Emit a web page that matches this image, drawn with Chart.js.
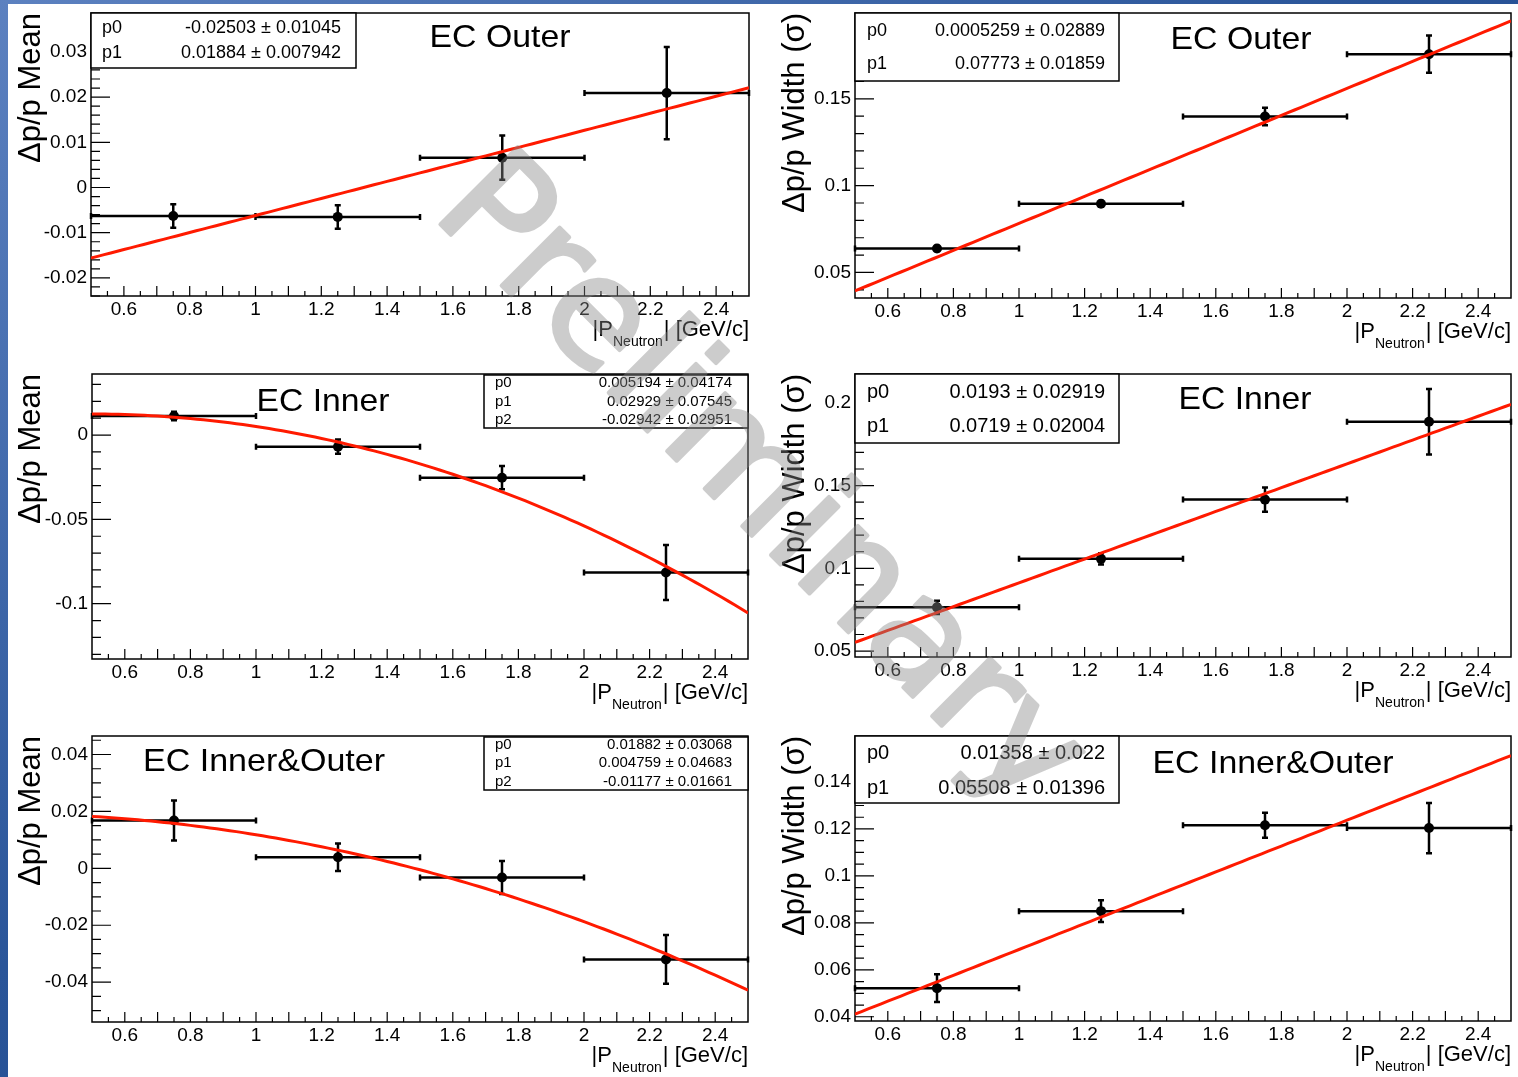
<!DOCTYPE html>
<html lang="en">
<head>
<meta charset="utf-8">
<title>Neutron momentum resolution vs |P|</title>
<script src="https://cdn.jsdelivr.net/npm/chart.js@4.4.1/dist/chart.umd.min.js"></script>
<style>
    html, body { margin: 0; padding: 0; }
    body {
        position: relative;
        width: 1518px;
        height: 1077px;
        overflow: hidden;
        background: linear-gradient(to bottom right, #5c81c0 0%, #2a5599 45%, #173d80 100%);
    }
    #sheet { position: absolute; left: 8px; top: 4px; width: 1510px; height: 1073px; background: #fff; }
    canvas { position: absolute; }
    #stamp { left: 0; top: 0; pointer-events: none; opacity: 0.42; }
</style>
</head>
<body>
<div id="sheet"></div>
<canvas id="stamp" width="1518" height="1077"></canvas>
<script>
const fontFamily = '"Liberation Sans", Arial, Helvetica, sans-serif';
Chart.defaults.font.family = fontFamily;
Chart.defaults.color = "#000";

const fitColor = "#ff1a00";

// |P_Neutron| bins (GeV/c)
const pBins = [0.75, 1.25, 1.75, 2.25];
const pHalfWidth = [0.25, 0.25, 0.25, 0.25];
const pTicks = [0.6, 0.8, 1, 1.2, 1.4, 1.6, 1.8, 2, 2.2, 2.4];
const fitRange = [0.5, 2.5];

// EC Outer
const outerMean = [-0.0063, -0.0065, 0.0066, 0.0209];
const outerMeanErr = [0.0026, 0.0026, 0.0049, 0.0102];
const outerMeanFit = [-0.02503, 0.01884];
const outerMeanFitErr = [0.01045, 0.007942];
const outerMeanTicks = [-0.02, -0.01, 0, 0.01, 0.02, 0.03];

const outerWidth = [0.0638, 0.0896, 0.1398, 0.1757];
const outerWidthErr = [0.0015, 0.0015, 0.005, 0.0107];
const outerWidthFit = [0.0005259, 0.07773];
const outerWidthFitErr = [0.02889, 0.01859];
const outerWidthTicks = [0.05, 0.1, 0.15];

// EC Inner
const innerMean = [0.0113, -0.0069, -0.0253, -0.0815];
const innerMeanErr = [0.0025, 0.0042, 0.0069, 0.0163];
const innerMeanFit = [0.005194, 0.02929, -0.02942];
const innerMeanFitErr = [0.04174, 0.07545, 0.02951];
const innerMeanTicks = [-0.1, -0.05, 0];

const innerWidth = [0.0764, 0.1057, 0.1415, 0.1885];
const innerWidthErr = [0.004, 0.0034, 0.0073, 0.0198];
const innerWidthFit = [0.0193, 0.0719];
const innerWidthFitErr = [0.02919, 0.02004];
const innerWidthTicks = [0.05, 0.1, 0.15, 0.2];

// EC Inner&Outer
const bothMean = [0.0168, 0.0039, -0.0032, -0.032];
const bothMeanErr = [0.007, 0.0048, 0.0058, 0.0086];
const bothMeanFit = [0.01882, 0.004759, -0.01177];
const bothMeanFitErr = [0.03068, 0.04683, 0.01661];
const bothMeanTicks = [-0.04, -0.02, 0, 0.02, 0.04];

const bothWidth = [0.0522, 0.085, 0.1216, 0.1204];
const bothWidthErr = [0.0059, 0.0046, 0.0053, 0.0107];
const bothWidthFit = [0.01358, 0.05508];
const bothWidthFitErr = [0.022, 0.01396];
const bothWidthTicks = [0.04, 0.06, 0.08, 0.1, 0.12, 0.14];

// page layout of the six pads: canvas box, frame, axis range, stats box, title
const pads = [
    {
        box: [8, 4, 752, 356], frame: [91, 13, 749, 296], yMin: -0.024, yMax: 0.0386,
        yTicks: outerMeanTicks, yMajor: 0.01, yMinor: 0.002, yTitle: "Δp/p Mean", yTitlePad: 4.5,
        values: outerMean, errors: outerMeanErr, fit: outerMeanFit, fitErr: outerMeanFitErr,
        stats: {rect: [91, 13, 356, 68], rows: [28, 53], labelX: 102, valueX: 341, size: 18},
        title: "EC Outer", titleAt: [500, 47], titleWidth: 141,
    },
    {
        box: [760, 4, 758, 356], frame: [855, 13, 1511, 298], yMin: 0.0353, yMax: 0.1994,
        yTicks: outerWidthTicks, yMajor: 0.05, yMinor: 0.01, yTitle: "Δp/p Width (σ)", yTitlePad: 16.5,
        values: outerWidth, errors: outerWidthErr, fit: outerWidthFit, fitErr: outerWidthFitErr,
        stats: {rect: [855, 13, 1119, 81], rows: [31, 64], labelX: 867, valueX: 1105, size: 18},
        title: "EC Outer", titleAt: [1241, 49], titleWidth: 141,
    },
    {
        box: [8, 360, 752, 360], frame: [92, 374, 748, 659], yMin: -0.1328, yMax: 0.0362,
        yTicks: innerMeanTicks, yMajor: 0.05, yMinor: 0.01, yTitle: "Δp/p Mean", yTitlePad: 4.5,
        values: innerMean, errors: innerMeanErr, fit: innerMeanFit, fitErr: innerMeanFitErr,
        stats: {rect: [484, 375, 748, 428], rows: [383, 402, 420], labelX: 495, valueX: 732, size: 15},
        title: "EC Inner", titleAt: [323, 411], titleWidth: 133,
    },
    {
        box: [760, 360, 758, 360], frame: [855, 374, 1511, 657], yMin: 0.0464, yMax: 0.2174,
        yTicks: innerWidthTicks, yMajor: 0.05, yMinor: 0.01, yTitle: "Δp/p Width (σ)", yTitlePad: 16.5,
        values: innerWidth, errors: innerWidthErr, fit: innerWidthFit, fitErr: innerWidthFitErr,
        stats: {rect: [855, 374, 1119, 443], rows: [392, 426], labelX: 867, valueX: 1105, size: 20},
        title: "EC Inner", titleAt: [1245, 409], titleWidth: 133,
    },
    {
        box: [8, 720, 752, 357], frame: [92, 736, 748, 1022], yMin: -0.054, yMax: 0.0465,
        yTicks: bothMeanTicks, yMajor: 0.02, yMinor: 0.005, yTitle: "Δp/p Mean", yTitlePad: 4.5,
        values: bothMean, errors: bothMeanErr, fit: bothMeanFit, fitErr: bothMeanFitErr,
        stats: {rect: [484, 737, 748, 790], rows: [745, 763, 782], labelX: 495, valueX: 732, size: 15},
        title: "EC Inner&Outer", titleAt: [264, 771], titleWidth: 242,
    },
    {
        box: [760, 720, 758, 357], frame: [855, 736, 1511, 1021], yMin: 0.0382, yMax: 0.1596,
        yTicks: bothWidthTicks, yMajor: 0.02, yMinor: 0.005, yTitle: "Δp/p Width (σ)", yTitlePad: 16.5,
        values: bothWidth, errors: bothWidthErr, fit: bothWidthFit, fitErr: bothWidthFitErr,
        stats: {rect: [855, 736, 1119, 803], rows: [753, 788], labelX: 867, valueX: 1105, size: 20},
        title: "EC Inner&Outer", titleAt: [1273, 773], titleWidth: 241,
    },
];

// polynomial p0 + p1*x + p2*x^2 sampled over the fit range
function fitCurve(params) {
    const pts = [];
    for (let i = 0; i <= 100; i++) {
        const x = fitRange[0] + (fitRange[1] - fitRange[0]) * i / 100;
        const y = params.reduce((sum, p, k) => sum + p * Math.pow(x, k), 0);
        pts.push({x: x, y: y});
    }
    return pts;
}

function isMultiple(v, step) {
    return Math.abs(v / step - Math.round(v / step)) < 1e-6;
}

// frame, inward ticks, error bars, stats box and titles in ROOT style
function rootPad(pad) {
    const ox = pad.box[0];
    const oy = pad.box[1];
    return {
        id: "rootPad",
        beforeDatasetsDraw(chart) {
            const {ctx, chartArea: a, scales: {x, y}} = chart;
            ctx.save();
            ctx.strokeStyle = "#000";
            ctx.lineWidth = 1.5;
            ctx.strokeRect(a.left, a.top, a.right - a.left, a.bottom - a.top);

            ctx.lineWidth = 1.2;
            ctx.beginPath();
            for (let k = 11; k < 50; k++) {
                const v = k * 0.05;
                const px = x.getPixelForValue(v);
                const len = k % 2 === 0 ? 10 : 5;
                ctx.moveTo(px, a.bottom);
                ctx.lineTo(px, a.bottom - len);
            }
            const k0 = Math.ceil(pad.yMin / pad.yMinor - 1e-6);
            const k1 = Math.floor(pad.yMax / pad.yMinor + 1e-6);
            for (let k = k0; k <= k1; k++) {
                const v = k * pad.yMinor;
                const py = y.getPixelForValue(v);
                const len = isMultiple(v, pad.yMajor) ? 19 : 9;
                ctx.moveTo(a.left, py);
                ctx.lineTo(a.left + len, py);
            }
            ctx.stroke();

            ctx.lineWidth = 2.5;
            ctx.beginPath();
            pad.values.forEach((v, i) => {
                const cx = x.getPixelForValue(pBins[i]);
                const cy = y.getPixelForValue(v);
                const x0 = x.getPixelForValue(pBins[i] - pHalfWidth[i]);
                const x1 = x.getPixelForValue(pBins[i] + pHalfWidth[i]);
                const y0 = y.getPixelForValue(v - pad.errors[i]);
                const y1 = y.getPixelForValue(v + pad.errors[i]);
                ctx.moveTo(x0, cy); ctx.lineTo(x1, cy);
                ctx.moveTo(cx, y0); ctx.lineTo(cx, y1);
                ctx.moveTo(x0, cy - 3); ctx.lineTo(x0, cy + 3);
                ctx.moveTo(x1, cy - 3); ctx.lineTo(x1, cy + 3);
                ctx.moveTo(cx - 3, y0); ctx.lineTo(cx + 3, y0);
                ctx.moveTo(cx - 3, y1); ctx.lineTo(cx + 3, y1);
            });
            ctx.stroke();
            ctx.restore();
        },
        afterDraw(chart) {
            const {ctx, chartArea: a} = chart;
            const s = pad.stats;
            ctx.save();

            // fit parameter box
            const [bx0, by0, bx1, by1] = s.rect;
            ctx.fillStyle = "#fff";
            ctx.fillRect(bx0 - ox, by0 - oy, bx1 - bx0, by1 - by0);
            ctx.strokeStyle = "#000";
            ctx.lineWidth = 1.5;
            ctx.strokeRect(bx0 - ox, by0 - oy, bx1 - bx0, by1 - by0);
            ctx.fillStyle = "#000";
            ctx.font = s.size + "px " + fontFamily;
            ctx.textBaseline = "middle";
            pad.fit.forEach((p, k) => {
                ctx.textAlign = "left";
                ctx.fillText("p" + k, s.labelX - ox, s.rows[k] - oy);
                ctx.textAlign = "right";
                ctx.fillText(p + " ± " + pad.fitErr[k], s.valueX - ox, s.rows[k] - oy);
            });

            // pad title, widened to the ROOT text width
            ctx.font = "32px " + fontFamily;
            ctx.textAlign = "center";
            ctx.textBaseline = "alphabetic";
            const tw = ctx.measureText(pad.title).width;
            ctx.save();
            ctx.translate(pad.titleAt[0] - ox, pad.titleAt[1] - oy);
            ctx.scale(pad.titleWidth / tw, 1);
            ctx.fillText(pad.title, 0, 0);
            ctx.restore();

            // x-axis title with subscript
            const base = a.bottom + 40;
            const mainFont = "22px " + fontFamily;
            const subFont = "14px " + fontFamily;
            ctx.textAlign = "left";
            ctx.font = mainFont;
            const wHead = ctx.measureText("|P").width;
            const wTail = ctx.measureText("| [GeV/c]").width;
            ctx.font = subFont;
            const wSub = ctx.measureText("Neutron").width;
            let px = a.right - wTail - wSub - wHead - 1;
            ctx.font = mainFont;
            ctx.fillText("|P", px, base);
            px += wHead;
            ctx.font = subFont;
            ctx.fillText("Neutron", px, base + 10);
            px += wSub + 1;
            ctx.font = mainFont;
            ctx.fillText("| [GeV/c]", px, base);
            ctx.restore();
        },
    };
}

const stamp = document.getElementById("stamp");

function makePad(pad) {
    const [bl, bt, bw, bh] = pad.box;
    const [fl, ft, fr, fb] = pad.frame;
    const canvas = document.createElement("canvas");
    canvas.width = bw;
    canvas.height = bh;
    canvas.style.left = bl + "px";
    canvas.style.top = bt + "px";
    document.body.insertBefore(canvas, stamp);

    return new Chart(canvas, {
        type: "scatter",
        data: {
            datasets: [
                {
                    data: fitCurve(pad.fit),
                    showLine: true,
                    pointRadius: 0,
                    borderColor: fitColor,
                    borderWidth: 3,
                    tension: 0,
                },
                {
                    data: pBins.map((p, i) => ({x: p, y: pad.values[i]})),
                    pointRadius: 5,
                    pointBackgroundColor: "#000",
                    pointBorderWidth: 0,
                },
            ],
        },
        options: {
            responsive: false,
            animation: false,
            events: [],
            layout: {
                padding: {left: 0, top: ft - bt, right: bl + bw - fr, bottom: 0},
            },
            plugins: {
                legend: {display: false},
                tooltip: {enabled: false},
            },
            scales: {
                x: {
                    type: "linear",
                    min: fitRange[0],
                    max: fitRange[1],
                    afterBuildTicks: (s) => { s.ticks = pTicks.map((v) => ({value: v})); },
                    afterFit: (s) => { s.height = bt + bh - fb; s.paddingLeft = 0; s.paddingRight = 0; },
                    grid: {display: false, drawTicks: false},
                    border: {display: false},
                    ticks: {
                        autoSkip: false, maxRotation: 0, padding: 2,
                        font: {size: 19}, callback: (v) => String(v),
                    },
                },
                y: {
                    type: "linear",
                    min: pad.yMin,
                    max: pad.yMax,
                    afterBuildTicks: (s) => { s.ticks = pad.yTicks.map((v) => ({value: v})); },
                    afterFit: (s) => { s.width = fl - bl; s.paddingTop = 0; s.paddingBottom = 0; },
                    grid: {display: false, drawTicks: false},
                    border: {display: false},
                    ticks: {
                        autoSkip: false, padding: 4,
                        font: {size: 19}, callback: (v) => String(v),
                    },
                    title: {
                        display: true,
                        text: pad.yTitle,
                        align: "end",
                        font: {size: 31},
                        padding: {top: pad.yTitlePad, bottom: 0},
                    },
                },
            },
        },
        plugins: [rootPad(pad)],
    });
}

pads.forEach(makePad);

// "Preliminary" stamp laid across the whole sheet
const sctx = stamp.getContext("2d");
sctx.translate(430, 214);
sctx.rotate(45 * Math.PI / 180);
sctx.font = '150px "DejaVu Sans"';
sctx.fillStyle = "#888";
sctx.strokeStyle = "#888";
sctx.lineWidth = 4;
sctx.lineJoin = "round";
sctx.fillText("Preliminary", 0, 0);
sctx.strokeText("Preliminary", 0, 0);
</script>
</body>
</html>
